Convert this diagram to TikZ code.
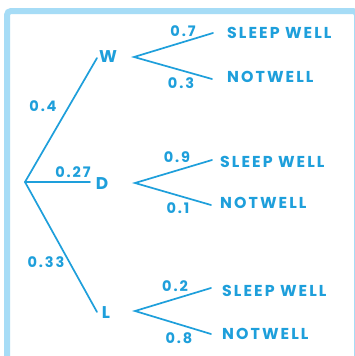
\documentclass[tikz,border=0pt]{standalone}
\usepackage{fontspec}
\setmainfont{Poppins}
\newfontfamily\handfont[LetterSpace=13]{Poppins}
\begin{document}
\begin{tikzpicture}[x=1pt,y=-1pt,
  ink/.style={draw=inkblue,line width=1.7pt,line cap=round},
  lbl/.style={text=inkblue,font=\fontsize{17}{17}\selectfont\bfseries,inner sep=0pt},
  outcome/.style={text=inkblue,font=\handfont\fontsize{15.8}{16}\selectfont\bfseries,inner sep=0pt,anchor=west},
  prob/.style={text=inkblue,font=\handfont\fontsize{14.5}{15}\selectfont\bfseries,inner sep=0pt}]
\definecolor{inkblue}{HTML}{1E9FDB}
\definecolor{framebl}{HTML}{A6DCF6}
\useasboundingbox (0,0) rectangle (355,356);
\fill[white] (0,0) rectangle (355,356);
% frame
\begin{scope}
\clip (0,0) rectangle (355,356);
\draw[framebl,line width=6pt,rounded corners=4pt] (7,11) rectangle (357,380);
\end{scope}

% root and first-level nodes
\coordinate (root) at (25,182);
\coordinate (wA) at (97,58);
\coordinate (dA) at (90,182);
\coordinate (lA) at (97,312);
\node[lbl] (W) at (108,57) {W};
\node[lbl] (D) at (102,184) {D};
\node[lbl] (L) at (106,313) {L};

\draw[ink] (root) -- (wA);
\draw[ink] (root) -- (dA);
\draw[ink] (root) -- (lA);
\node[prob] (p4) at (43,106) {0.4};
\node[prob] (p27) at (73,172) {0.27};
\node[prob] (p33) at (46,262) {0.33};

% W branches
\coordinate (wO) at (134,57);
\coordinate (wS) at (213,33);
\coordinate (wN) at (212,79);
\draw[ink] (wS) -- (wO) -- (wN);
\node[prob] (p7) at (183,31) {0.7};
\node[prob] (p3) at (181,83) {0.3};
\node[outcome] (ws) at (227,33) {SLEEP WELL};
\node[outcome] (wn) at (227,77) {NOTWELL};

% D branches
\coordinate (dO) at (135,183);
\coordinate (dS) at (212,160);
\coordinate (dN) at (211,205);
\draw[ink] (dS) -- (dO) -- (dN);
\node[prob] (p9) at (177,157) {0.9};
\node[prob] (p1) at (178,208) {0.1};
\node[outcome] (ds) at (220,162) {SLEEP WELL};
\node[outcome] (dn) at (220,203) {NOTWELL};

% L branches
\coordinate (lO) at (135,311);
\coordinate (lS) at (211,288);
\coordinate (lN) at (211,334);
\draw[ink] (lS) -- (lO) -- (lN);
\node[prob] (p2) at (175,286) {0.2};
\node[prob] (p8) at (179,338) {0.8};
\node[outcome] (ls) at (222,291) {SLEEP WELL};
\node[outcome] (ln) at (222,334) {NOTWELL};
\end{tikzpicture}
\end{document}
